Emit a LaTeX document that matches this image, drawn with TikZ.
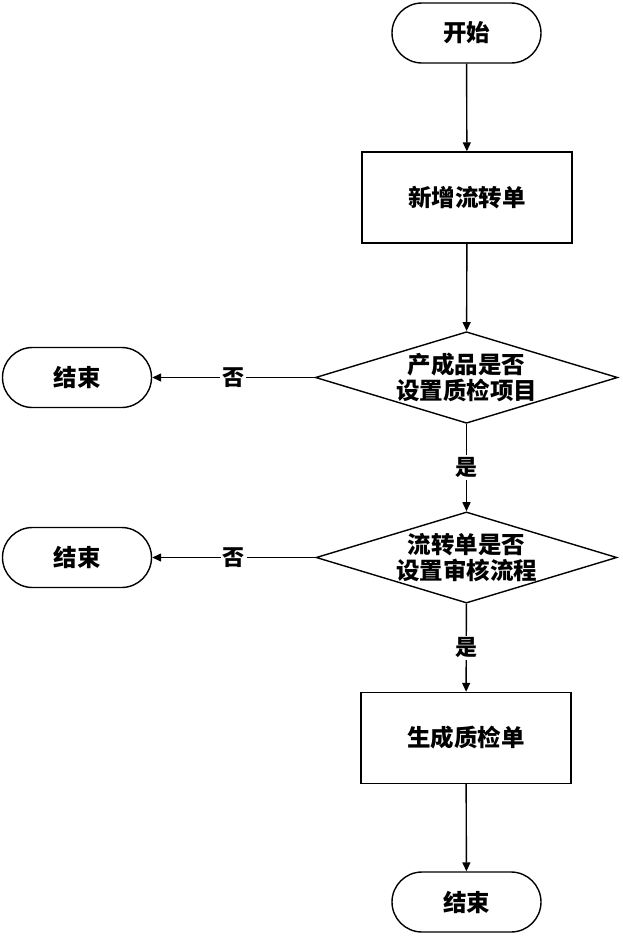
\documentclass[tikz,border=0pt]{standalone}
\usepackage{fontspec}
\setmainfont{Noto Sans CJK SC}
\usetikzlibrary{shapes.geometric,shapes.misc,arrows.meta}
\tikzset{
  base/.style={draw, line width=1.4pt, font=\fontsize{23.5}{26}\selectfont\bfseries, inner sep=0pt, align=center},
  term/.style={base, rounded rectangle, minimum width=149pt, minimum height=60pt},
  proc/.style={base, rectangle, minimum width=210pt, minimum height=91pt},
  dec/.style={base, diamond, minimum width=297pt, minimum height=89pt},
  conn/.style={line width=1.4pt, -{Triangle[length=9pt,width=8pt]}},
  lab/.style={fill=white, inner sep=2pt, font=\fontsize{22}{26}\selectfont\bfseries}
}
\begin{document}
\begin{tikzpicture}[x=1pt,y=-1pt]
\useasboundingbox[fill=white] (0,0) rectangle (622,938);
\node[term] (start) at (466.5,33) {开始};
\node[proc] (add) at (467,197.5) {新增流转单};
\node[dec, aspect=3.3] (d1) at (466.5,377.5) {产成品是否\\设置质检项目};
\node[term] (e1) at (77,377.5) {结束};
\node[dec, aspect=3.3] (d2) at (466.5,557.5) {流转单是否\\设置审核流程};
\node[term] (e2) at (77,557.5) {结束};
\node[proc] (gen) at (466,738) {生成质检单};
\node[term] (e3) at (466.5,902) {结束};
\draw[conn] (start) -- (add);
\draw[conn] (add) -- (d1);
\draw[conn] (d1) -- node[lab] (y1) {是} (d2);
\draw[conn] (d2) -- node[lab] (y2) {是} (gen);
\draw[conn] (gen) -- (e3);
\draw[conn] (d1.west) -- node[lab] (n1) {否} (e1.east);
\draw[conn] (d2.west) -- node[lab] (n2) {否} (e2.east);
\end{tikzpicture}
\end{document}
